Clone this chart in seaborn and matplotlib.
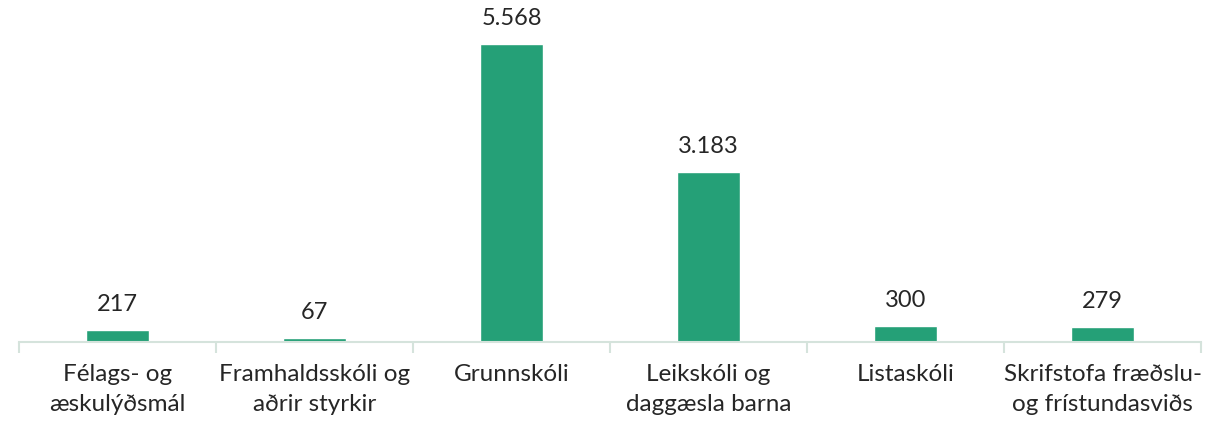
import matplotlib
matplotlib.use("Agg")
import matplotlib.pyplot as plt
import seaborn as sns
import pandas as pd

# Data

categories = [
    "Félags- og\næskulýðsmál",
    "Framhaldsskóli og\naðrir styrkir",
    "Grunnskóli",
    "Leikskóli og\ndaggæsla barna",
    "Listaskóli",
    "Skrifstofa fræðslu-\nog frístundasviðs",
]
values = [217, 67, 5568, 3183, 300, 279]

df = pd.DataFrame({"cat": categories, "val": values})

sns.set_theme(style="white")
plt.rcParams["font.family"] = ["Lato", "DejaVu Sans"]

fig = plt.figure(figsize=(12.24, 4.26), dpi=100)
ax = fig.add_axes([19 / 1224, 1 - 342 / 426, 1182 / 1224, 342 / 426])

sns.barplot(
    data=df,
    x="cat",
    y="val",
    color="#25A077",
    saturation=1,
    width=0.315,
    ax=ax
)

for i, v in enumerate(values):
    ax.text(
        i,
        v + 280,
        f"{v:,}".replace(",", "."),
        ha="center",
        va="bottom",
        fontsize=17,
        color="#262626"
    )

ax.set_ylim(0, 6390)
ax.set_xlim(-0.5, len(values) - 0.5)
ax.set_xlabel("")
ax.set_ylabel("")
ax.set_yticks([])

for s in ["top", "right", "left"]:
    ax.spines[s].set_visible(False)
ax.spines["bottom"].set_color("#D5E3DC")
ax.spines["bottom"].set_linewidth(1.5)

# ticks between categories
ax.set_xticks([i - 0.5 for i in range(len(values) + 1)], minor=True)
ax.tick_params(axis="x", which="minor", length=8, width=1.5, color="#D5E3DC", bottom=True)
ax.tick_params(axis="x", which="major", length=0, pad=16, labelsize=17.5, labelcolor="#262626")
for lbl in ax.get_xticklabels():
    lbl.set_verticalalignment("top")
    lbl.set_linespacing(1.5)

plt.savefig("out.png", dpi=100)
